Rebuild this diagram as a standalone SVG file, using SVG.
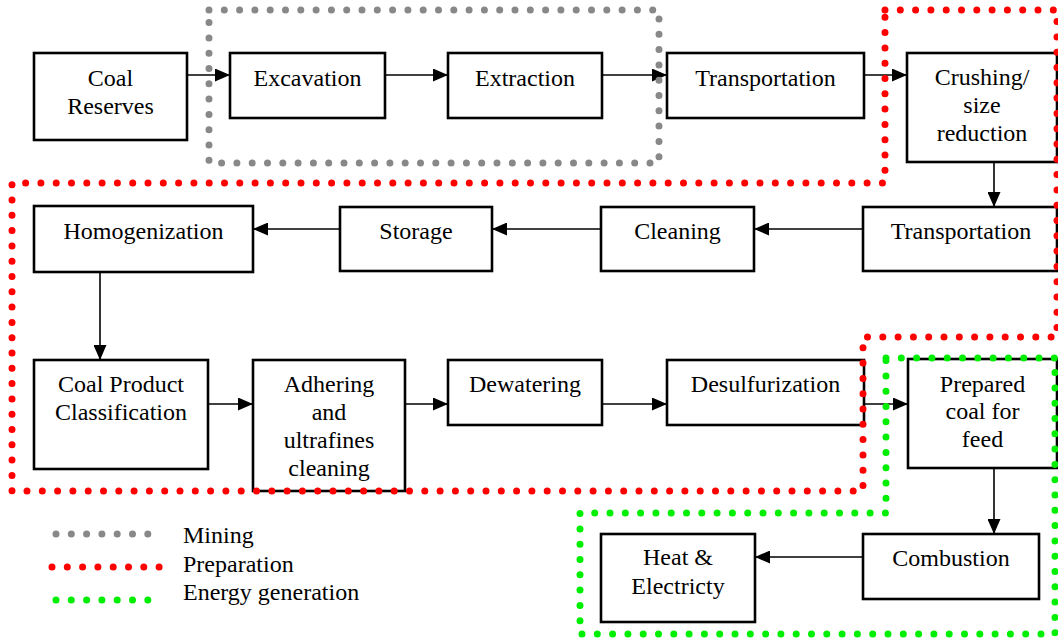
<svg xmlns="http://www.w3.org/2000/svg" width="1058" height="643" viewBox="0 0 1058 643">
<style>
.box{fill:#fff;stroke:#000;stroke-width:2.6}
.t{font-family:"Liberation Serif","Times New Roman",serif;font-size:24px;fill:#000;text-anchor:middle}
.lt{font-family:"Liberation Serif","Times New Roman",serif;font-size:24px;fill:#000}
.ar{stroke:#000;stroke-width:1.6;fill:none;marker-end:url(#ah)}
.dot{fill:none;stroke-width:7;stroke-linecap:round;stroke-dasharray:0 15.3}
.gray{stroke:#888}
.red{stroke:#f00}
.green{stroke:#0e0}
</style>
<defs>
<marker id="ah" viewBox="0 0 15 13" refX="15" refY="6.5" markerWidth="15" markerHeight="13" markerUnits="userSpaceOnUse" orient="auto">
<path d="M0,0 L15,6.5 L0,13 Z" fill="#000"/>
</marker>
</defs>
<rect width="1058" height="643" fill="#fff"/>
<g id="n-coal-reserves"><rect class="box" x="34" y="53" width="153" height="87"/><text class="t" x="110.5" y="86">Coal</text><text class="t" x="110.5" y="114">Reserves</text></g>
<g id="n-excavation"><rect class="box" x="230" y="53" width="155" height="65"/><text class="t" x="307.5" y="86">Excavation</text></g>
<g id="n-extraction"><rect class="box" x="448" y="53" width="154" height="65"/><text class="t" x="525" y="86">Extraction</text></g>
<g id="n-transportation1"><rect class="box" x="667" y="53" width="197" height="65"/><text class="t" x="765.5" y="86">Transportation</text></g>
<g id="n-crushing"><rect class="box" x="907" y="53" width="150" height="109"/><text class="t" x="982" y="85">Crushing/</text><text class="t" x="982" y="113">size</text><text class="t" x="982" y="141">reduction</text></g>
<g id="n-transportation2"><rect class="box" x="863" y="207" width="194" height="64"/><text class="t" x="961" y="239">Transportation</text></g>
<g id="n-cleaning"><rect class="box" x="601" y="207" width="153" height="64"/><text class="t" x="677.5" y="239">Cleaning</text></g>
<g id="n-storage"><rect class="box" x="340" y="207" width="152" height="64"/><text class="t" x="416" y="239">Storage</text></g>
<g id="n-homogenization"><rect class="box" x="34" y="206" width="219" height="66"/><text class="t" x="143.5" y="239">Homogenization</text></g>
<g id="n-classification"><rect class="box" x="34" y="360" width="174" height="109"/><text class="t" x="121" y="392">Coal Product</text><text class="t" x="121" y="420">Classification</text></g>
<g id="n-adhering"><rect class="box" x="253" y="360" width="152" height="131"/><text class="t" x="329" y="392">Adhering</text><text class="t" x="329" y="420">and</text><text class="t" x="329" y="448">ultrafines</text><text class="t" x="329" y="476">cleaning</text></g>
<g id="n-dewatering"><rect class="box" x="448" y="360" width="154" height="65"/><text class="t" x="525" y="392">Dewatering</text></g>
<g id="n-desulfurization"><rect class="box" x="667" y="360" width="197" height="65"/><text class="t" x="765.5" y="392">Desulfurization</text></g>
<g id="n-prepared"><rect class="box" x="908" y="359" width="149" height="109"/><text class="t" x="982.5" y="392">Prepared</text><text class="t" x="982.5" y="419">coal for</text><text class="t" x="982.5" y="447">feed</text></g>
<g id="n-combustion"><rect class="box" x="863" y="534" width="176" height="65"/><text class="t" x="951" y="566">Combustion</text></g>
<g id="n-heat"><rect class="box" x="601" y="534" width="154" height="88"/><text class="t" x="678" y="565">Heat &amp;</text><text class="t" x="678" y="594">Electricty</text></g>
<g id="connectors">
<line class="ar" x1="187" y1="75" x2="230" y2="75"/>
<line class="ar" x1="385" y1="75" x2="448" y2="75"/>
<line class="ar" x1="602" y1="75" x2="667" y2="75"/>
<line class="ar" x1="864" y1="75" x2="907" y2="75"/>
<line class="ar" x1="994" y1="162" x2="994" y2="207"/>
<line class="ar" x1="863" y1="229" x2="754" y2="229"/>
<line class="ar" x1="601" y1="229" x2="492" y2="229"/>
<line class="ar" x1="340" y1="229" x2="253" y2="229"/>
<line class="ar" x1="100" y1="272" x2="100" y2="360"/>
<line class="ar" x1="208" y1="404" x2="253" y2="404"/>
<line class="ar" x1="405" y1="404" x2="448" y2="404"/>
<line class="ar" x1="602" y1="404" x2="667" y2="404"/>
<line class="ar" x1="864" y1="404" x2="908" y2="404"/>
<line class="ar" x1="994" y1="468" x2="994" y2="534"/>
<line class="ar" x1="863" y1="557" x2="755" y2="557"/>
</g>
<g id="region-mining"><path class="dot gray" d="M209,10 H659 V163 H209 Z"/></g>
<g id="region-preparation"><path class="dot red" d="M885,10 H1057 V337 H863 V491 H12 V183 H885 Z"/></g>
<g id="region-energy"><path class="dot green" d="M886,358 H1055 V634 H580 V513 H886 Z"/></g>
<g id="legend">
<line class="dot gray" x1="56" y1="534" x2="163" y2="534"/>
<line class="dot red" x1="52" y1="567" x2="163" y2="567"/>
<line class="dot green" x1="56" y1="600" x2="163" y2="600"/>
<text class="lt" x="183" y="543">Mining</text>
<text class="lt" x="183" y="572">Preparation</text>
<text class="lt" x="183" y="600">Energy generation</text>
</g>
</svg>
